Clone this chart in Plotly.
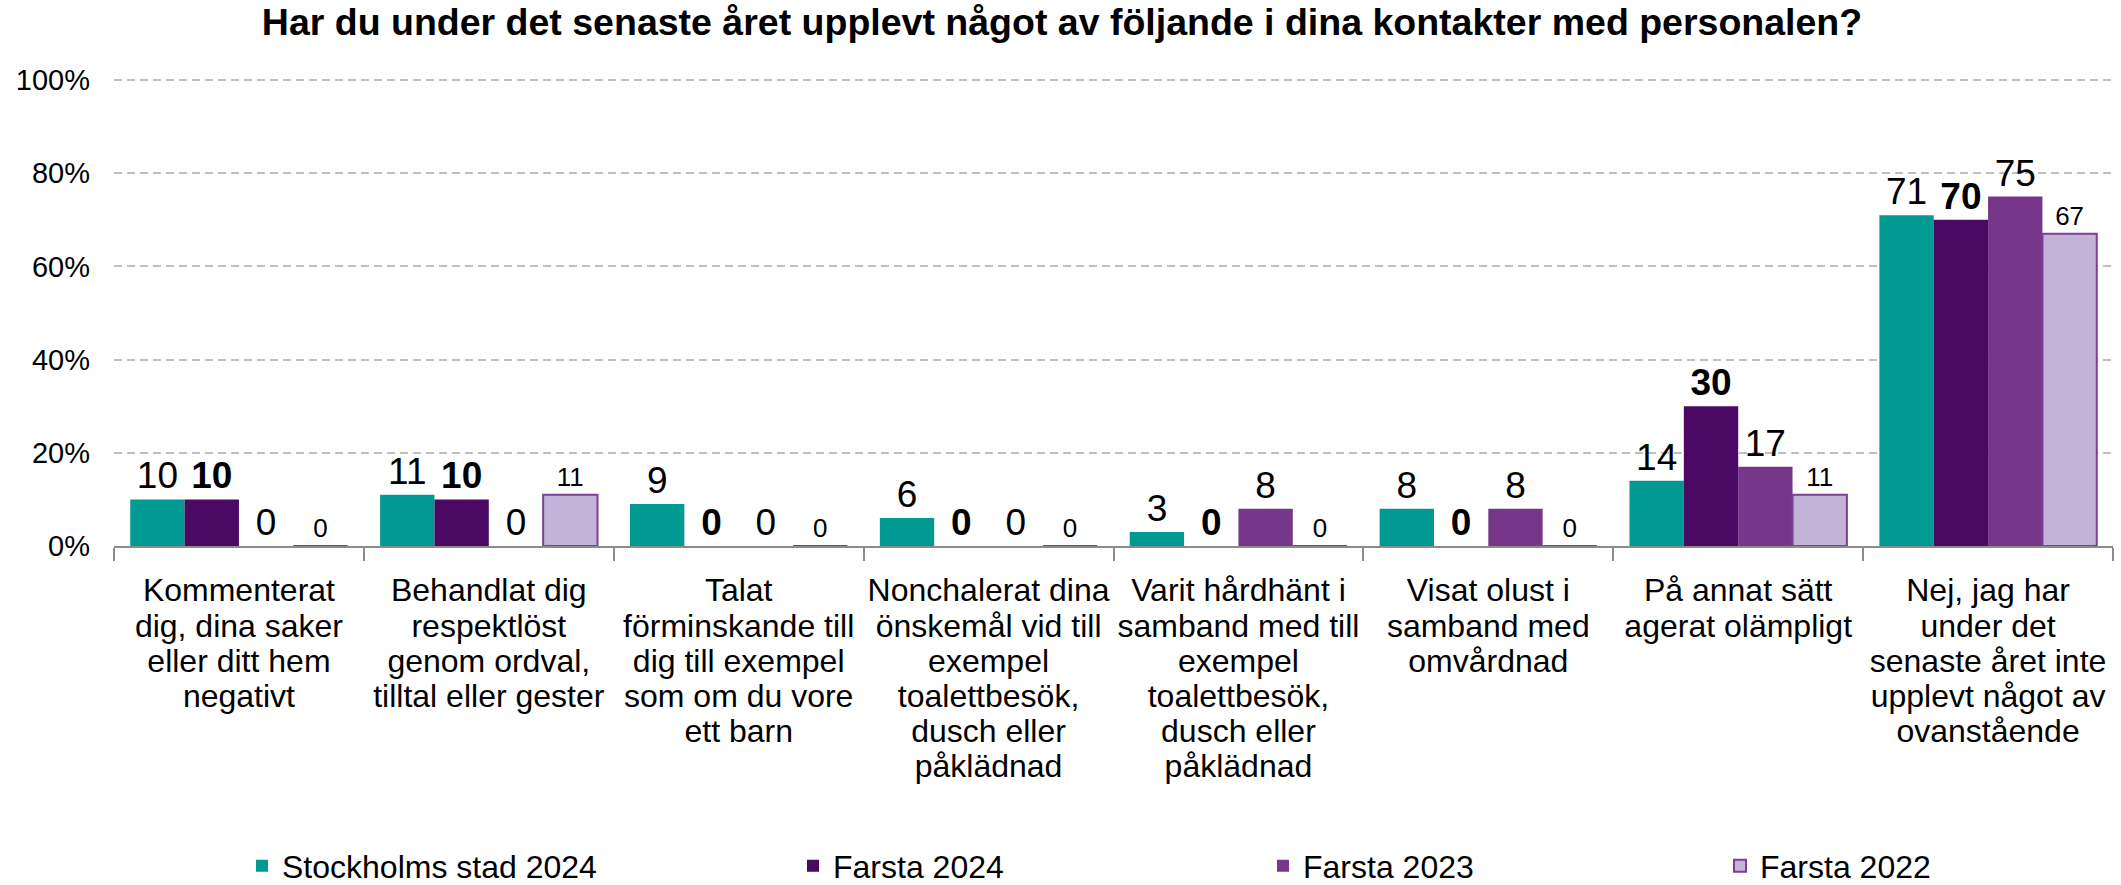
import plotly.graph_objects as go

category_lines = [
    ["Kommenterat", "dig, dina saker", "eller ditt hem", "negativt"],
    ["Behandlat dig", "respektlöst", "genom ordval,", "tilltal eller gester"],
    ["Talat", "förminskande till", "dig till exempel", "som om du vore", "ett barn"],
    ["Nonchalerat dina", "önskemål vid till", "exempel", "toalettbesök,", "dusch eller", "påklädnad"],
    ["Varit hårdhänt i", "samband med till", "exempel", "toalettbesök,", "dusch eller", "påklädnad"],
    ["Visat olust i", "samband med", "omvårdnad"],
    ["På annat sätt", "agerat olämpligt"],
    ["Nej, jag har", "under det", "senaste året inte", "upplevt något av", "ovanstående"],
]
series_names = ["Stockholms stad 2024", "Farsta 2024", "Farsta 2023", "Farsta 2022"]
stockholm_2024 = [10, 11, 9, 6, 3, 8, 14, 71]
farsta_2024 = [10, 10, 0, 0, 0, 0, 30, 70]
farsta_2023 = [0, 0, 0, 0, 8, 8, 17, 75]
farsta_2022 = [0, 11, 0, 0, 0, 0, 11, 67]
y_ticks = [0, 20, 40, 60, 80, 100]
y_tick_labels = ["0%", "20%", "40%", "60%", "80%", "100%"]

FONT = "Liberation Sans, Arial, sans-serif"
colors = ["#009A93", "#4A0A63", "#76368A", "#C4B3D8"]
line_colors = ["#009A93", "#4A0A63", "#76368A", "#7B3F98"]
line_widths = [0, 0, 0, 2]
label_sizes = [37, 37, 37, 26]
label_weights = ["normal", "bold", "normal", "normal"]
legend_ids = ["legend", "legend2", "legend3", "legend4"]

W, H = 2121, 885

# target geometry in page pixels
PLOT_L, PLOT_R = 114, 2113
PLOT_TOP100, PLOT_ZERO = 80, 546
legend_x = [242, 793, 1263, 1720]
legend_y = 866
title_pos = (1062, 22)

ML = PLOT_L
MR = W - PLOT_R
MB = H - PLOT_ZERO
MT = PLOT_TOP100 - 3
PW = W - ML - MR
PH = H - MT - MB
YMAX = 100 + 3 * 100 / (PH - 3)

categories = ["<br>".join('<span style="font-size:32px">%s</span>' % ln for ln in lines)
              for lines in category_lines]

fig = go.Figure()
all_values = [stockholm_2024, farsta_2024, farsta_2023, farsta_2022]
for i, (name, vals) in enumerate(zip(series_names, all_values)):
    fig.add_trace(go.Bar(
        x=categories, y=vals, name=name,
        marker=dict(color=colors[i], line=dict(color=line_colors[i], width=line_widths[i])),
        text=[str(v) for v in vals],
        textposition="outside",
        constraintext="none",
        cliponaxis=False,
        textfont=dict(family=FONT, size=label_sizes[i], color="#000000", weight=label_weights[i]),
        legend=legend_ids[i],
    ))

layout_legends = {}
for i, lid in enumerate(legend_ids):
    layout_legends[lid] = dict(
        x=(legend_x[i] - ML) / PW, xanchor="left",
        y=((H - MB) - legend_y) / PH, yanchor="middle",
        orientation="h",
        font=dict(family=FONT, size=32, color="#000000"),
        bgcolor="rgba(0,0,0,0)",
        traceorder="normal",
    )

fig.update_layout(
    width=W, height=H,
    margin=dict(l=ML, r=MR, t=MT, b=MB, autoexpand=False),
    paper_bgcolor="white", plot_bgcolor="white",
    barmode="group", bargap=0.13, bargroupgap=0,
    font=dict(family=FONT, color="#000000"),
    title=dict(
        text="<b>Har du under det senaste året upplevt något av följande i dina kontakter med personalen?</b>",
        font=dict(family=FONT, size=37.5, color="#000000"),
        x=title_pos[0] / W, xanchor="center", xref="container",
        y=1 - title_pos[1] / H, yanchor="middle", yref="container",
    ),
    showlegend=True,
    **layout_legends,
)

fig.update_xaxes(
    type="category",
    showline=True, linecolor="#8C8C8C", linewidth=2,
    ticks="outside", tickson="boundaries", ticklen=13, tickwidth=2, tickcolor="#8C8C8C",
    tickfont=dict(family=FONT, size=27, color="#000000"),
    ticklabelstandoff=21,
    showgrid=False,
    tickangle=0,
    layer="above traces",
    automargin=False,
)
fig.update_yaxes(
    range=[0, YMAX],
    tickvals=y_ticks, ticktext=y_tick_labels,
    tickfont=dict(family=FONT, size=29, color="#000000"),
    showgrid=True, gridcolor="#BFBFBF", gridwidth=2, griddash="8px,5px",
    zeroline=False, showline=False,
    ticks="", ticklabelstandoff=23,
    automargin=False,
)

# remove the browser's default 8px page margin so the figure fills the window exactly
fig.write_html(
    "out.html",
    config={"displayModeBar": False},
    post_script="document.body.style.margin='0';",
)
